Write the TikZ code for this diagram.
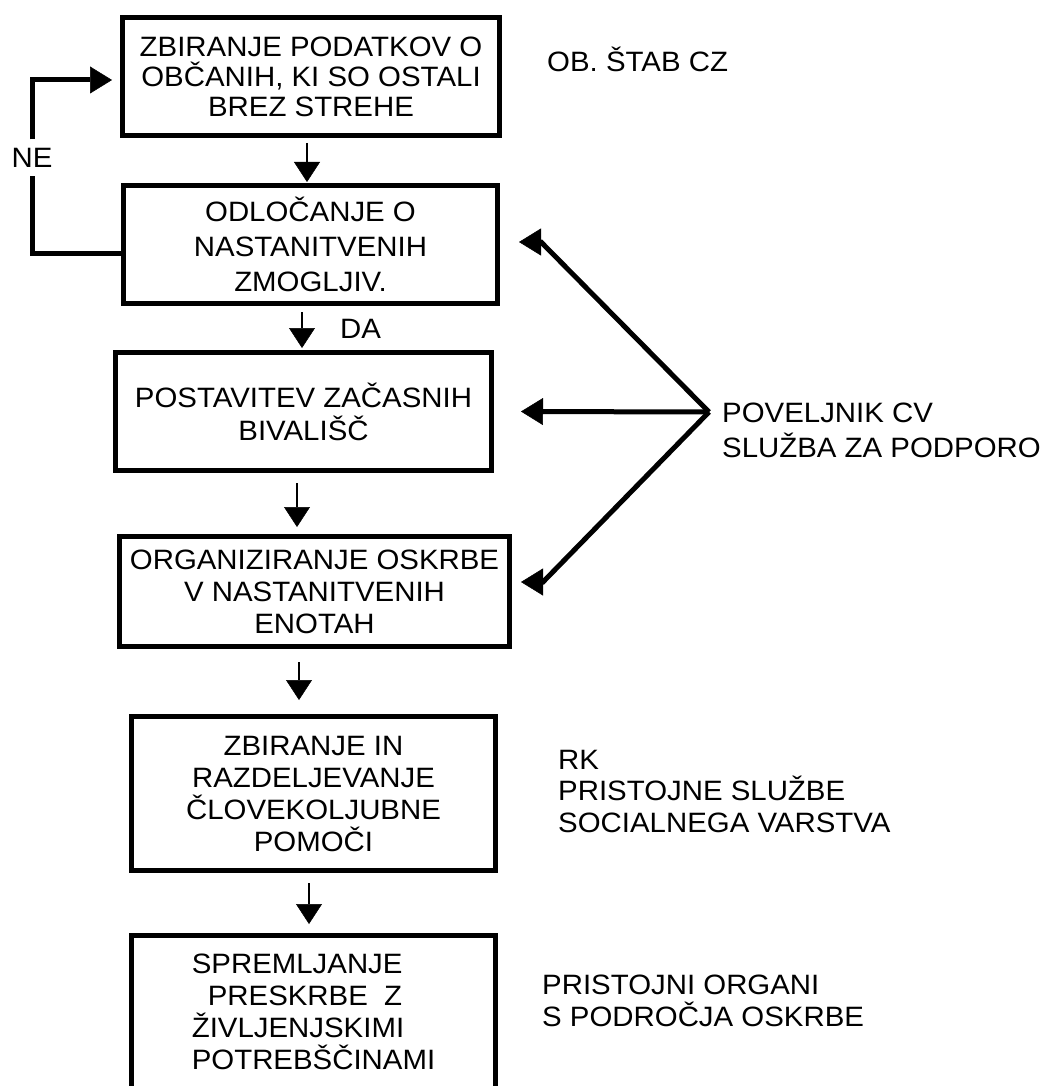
\documentclass[tikz,border=0pt]{standalone}
\usepackage{fontspec}
\setmainfont{Liberation Sans}[FakeStretch=1.05]
\usepackage{tikz}
\usetikzlibrary{arrows.meta}

\begin{document}
\begin{tikzpicture}[x=1pt,y=-1pt,
	font=\fontsize{28pt}{32pt}\selectfont,
	stepbox/.style={draw,line width=5pt,inner sep=4pt,align=center},
	flow/.style={-{Triangle[length=20pt,width=26pt,line width=0.5pt]},line width=2pt},
	link/.style={-{Triangle[length=22pt,width=27pt,line width=0.5pt]},line width=5pt},
	note/.style={inner sep=0pt,align=left,anchor=north west}]
	\useasboundingbox (0,0) rectangle (1045,1086);

	\node[stepbox,minimum width=377pt,minimum height=118pt,font=\fontsize{28pt}{30pt}\selectfont] (s1) at (311,76.5) {ZBIRANJE PODATKOV O\\OBČANIH, KI SO OSTALI\\BREZ STREHE};
	\node[stepbox,minimum width=374pt,minimum height=118pt,font=\fontsize{28pt}{35pt}\selectfont] (s2) at (310.5,244.5) {ODLOČANJE O\\NASTANITVENIH\\ZMOGLJIV.};
	\node[stepbox,minimum width=376pt,minimum height=118pt,font=\fontsize{28pt}{33pt}\selectfont] (s3) at (303.5,411.5) {POSTAVITEV ZAČASNIH\\BIVALIŠČ};
	\node[stepbox,minimum width=390pt,minimum height=110pt] (s4) at (314.5,591.5) {ORGANIZIRANJE OSKRBE\\V NASTANITVENIH\\ENOTAH};
	\node[stepbox,minimum width=364pt,minimum height=154pt] (s5) at (313.5,793.5) {ZBIRANJE IN\\RAZDELJEVANJE\\ČLOVEKOLJUBNE\\POMOČI};
	\node[stepbox,align=left,minimum width=364pt,minimum height=153pt] (s6) at (313.5,1012) {SPREMLJANJE\\\hspace{16pt}PRESKRBE\ \ Z\\ŽIVLJENJSKIMI\\POTREBŠČINAMI};

	\node[inner sep=0pt,anchor=base west] (stab) at (547,72) {OB. ŠTAB CZ};
	\node[note,font=\fontsize{28pt}{35pt}\selectfont] (cv) at (722,403) {POVELJNIK CV\\SLUŽBA ZA PODPORO};
	\node[note,font=\fontsize{28pt}{31.5pt}\selectfont] (rk) at (558,750) {RK\\PRISTOJNE SLUŽBE\\SOCIALNEGA VARSTVA};
	\node[note] (org) at (542,975) {PRISTOJNI ORGANI\\S PODROČJA OSKRBE};

	\node[inner sep=0pt,anchor=base west] (da) at (340,338) {DA};
	\node[inner sep=0pt,minimum height=36pt] (ne) at (32,157.5) {NE};
	\coordinate (hub) at (709,412);

	\path [flow] ([xshift=-4pt]s1.south) edge[shorten <=5pt,shorten >=1pt] ([xshift=-4pt]s1.south |- s2.north);
	\path [flow] ([xshift=-8.5pt]s2.south) edge[shorten <=6pt,shorten >=2pt] ([xshift=-8.5pt]s2.south |- s3.north);
	\path [flow] ([xshift=-6.5pt]s3.south) edge[shorten <=10pt,shorten >=7pt] ([xshift=-6.5pt]s3.south |- s4.north);
	\path [flow] ([xshift=-15.5pt]s4.south) edge[shorten <=13pt,shorten >=14pt] ([xshift=-15.5pt]s4.south |- s5.north);
	\path [flow] ([xshift=-4.5pt]s5.south) edge[shorten <=10pt,shorten >=9pt] ([xshift=-4.5pt]s5.south |- s6.north);

	% NE loop back
	\draw [link] ([yshift=-8.5pt]s2.west) -| (ne.south) (ne.north) |- ([xshift=-8pt,yshift=-3.5pt]s1.west);

	\draw [link] (hub) -- ([xshift=41pt,yshift=2.5pt]s2.east) -- ([xshift=19pt,yshift=2.5pt]s2.east);
	\draw [link] (hub) -- ([xshift=27pt]s3.east);
	\draw [link] (hub) -- ([xshift=31pt,yshift=9.5pt]s4.east) -- ([xshift=9pt,yshift=9.5pt]s4.east);
\end{tikzpicture}
\end{document}
